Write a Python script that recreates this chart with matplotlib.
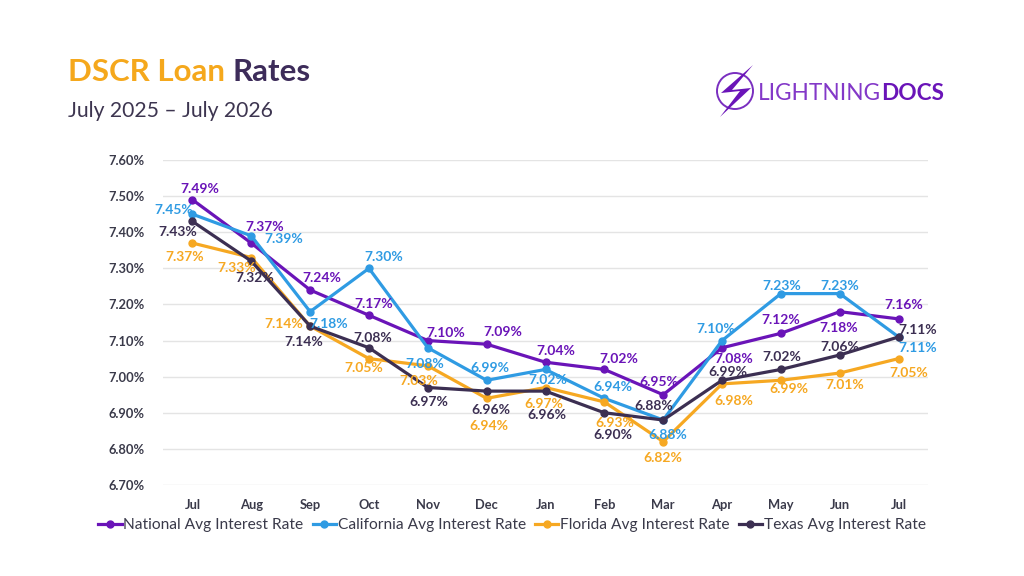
import matplotlib
matplotlib.use("Agg")
import matplotlib.pyplot as plt
from matplotlib.patches import Polygon, Circle

plt.rcParams['font.family'] = ['Lato', 'DejaVu Sans']

months = ["Jul", "Aug", "Sep", "Oct", "Nov", "Dec", "Jan", "Feb", "Mar", "Apr", "May", "Jun", "Jul"]
national = [7.49, 7.37, 7.24, 7.17, 7.10, 7.09, 7.04, 7.02, 6.95, 7.08, 7.12, 7.18, 7.16]
california = [7.45, 7.39, 7.18, 7.30, 7.08, 6.99, 7.02, 6.94, 6.88, 7.10, 7.23, 7.23, 7.11]
florida = [7.37, 7.33, 7.14, 7.05, 7.03, 6.94, 6.97, 6.93, 6.82, 6.98, 6.99, 7.01, 7.05]
texas = [7.43, 7.32, 7.14, 7.08, 6.97, 6.96, 6.96, 6.90, 6.88, 6.99, 7.02, 7.06, 7.11]
names = ["National Avg Interest Rate", "California Avg Interest Rate",
         "Florida Avg Interest Rate", "Texas Avg Interest Rate"]
yticks = [6.70, 6.80, 6.90, 7.00, 7.10, 7.20, 7.30, 7.40, 7.50, 7.60]

colors = ["#6a14b8", "#2f9be3", "#f6a822", "#3c2f52"]

# label offsets in pixels (dx, dy with dy positive = down)
offs = [
    [(7,-11),(13,-16),(12,-12),(5,-11),(18,-8),(16,-12),(10,-11),(14,-10),(-4,-13),(12,11),(0,-13),(-1,16),(5,-14)],
    [(-19,-4),(32,3),(19,12),(15,-11),(-3,16),(3,-12),(2,11),(9,-11),(5,15),(-6,-12),(1,-8),(0,-8),(19,11)],
    [(-8,14),(-15,10),(-26,-2),(-5,9),(-9,15),(2,28),(-2,16),(10,21),(0,16),(12,17),(8,9),(5,12),(10,14)],
    [(-15,11),(3,17),(-6,16),(4,-10),(1,15),(4,19),(1,24),(9,22),(-9,-14),(6,-8),(1,-12),(0,-8),(19,-7)],
]

fig = plt.figure(figsize=(10.24, 5.76), dpi=100)
fig.patch.set_facecolor("white")
ax = fig.add_axes([163/1024, 1-485/576, (928-163)/1024, (485-160)/576])

x = list(range(len(months)))
series = [national, california, florida, texas]
for s, c, n in zip(series, colors, names):
    ax.plot(x, s, color=c, lw=2.3, marker="o", ms=5, label=n, zorder=3)

for s, c, off in zip(series, colors, offs):
    for i, v in enumerate(s):
        ax.annotate(f"{v:.2f}%", (i, v), xytext=(off[i][0], -off[i][1]),
                    textcoords="offset pixels", ha="center", va="center",
                    color=c, fontsize=10, fontweight="bold", zorder=4)

ax.set_xlim(-0.5, 12.5)
ax.set_ylim(6.70, 7.60)
ax.set_yticks(yticks)
ax.set_yticklabels([f"{v:.2f}%" for v in yticks])
ax.set_xticks(x)
ax.set_xticklabels(months)
ax.grid(axis="y", color="#e4e4e4", lw=1)
ax.set_axisbelow(True)
for sp in ax.spines.values():
    sp.set_visible(False)
ax.tick_params(length=0, labelsize=9.3, labelcolor="#3a3a4a")
ax.tick_params(axis="y", pad=13)
ax.tick_params(axis="x", pad=10)
for t in ax.get_xticklabels() + ax.get_yticklabels():
    t.set_fontweight("bold")

fig.legend(loc="center", bbox_to_anchor=(0.5, 1-525/576), ncol=4, frameon=False,
           fontsize=11.2, handlelength=1.5, handletextpad=0.1, columnspacing=0.6,
           labelcolor="#3a3a4a", borderaxespad=0)

# Title
t1 = fig.text(68/1024, 1-72/576, "DSCR Loan ", fontsize=22.5, fontweight="bold",
              color="#f5a81c", va="center", ha="left")
fig.canvas.draw()
bb = t1.get_window_extent()
fig.text(bb.x1/1024, 1-72/576, "Rates", fontsize=22.5, fontweight="bold",
         color="#3d2c5a", va="center", ha="left")
fig.text(68/1024, 1-111/576, "July 2025 \u2013 July 2026", fontsize=15.2,
         color="#3d3550", va="center", ha="left")

# Logo
lax = fig.add_axes([0, 0, 1, 1], zorder=10)
lax.set_xlim(0, 1024)
lax.set_ylim(576, 0)
lax.axis("off")
lax.patch.set_alpha(0)
lax.add_patch(Circle((735, 91), 18, fill=False, ec="#7a2fc0", lw=1.4))
lax.add_patch(Polygon([(753, 65), (721, 93), (740, 91), (720, 117), (751, 88), (732, 90)],
                      closed=True, fc="#6a14b8", ec="none"))
lt = lax.text(758, 93, "LIGHTNING", fontsize=16.3, color="#8338c8", va="center", ha="left")
fig.canvas.draw()
b2 = lt.get_window_extent()
lax.text(b2.x1, 93, "DOCS", fontsize=16.3, fontweight="bold", color="#6a14b8",
         va="center", ha="left")

fig.savefig("out.png", dpi=100, facecolor="white")
